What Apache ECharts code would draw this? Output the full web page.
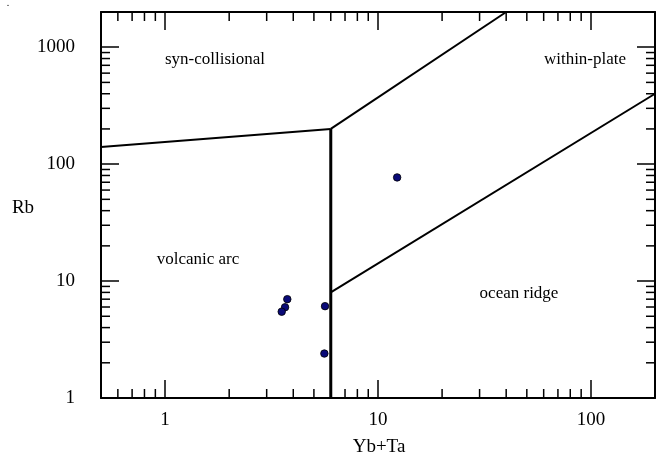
<!DOCTYPE html>
<html>
<head>
<meta charset="utf-8">
<script src="https://cdn.jsdelivr.net/npm/echarts@6/dist/echarts.min.js"></script>
<style>
  html, body { margin: 0; padding: 0; background: #fff; }
  #chart { width: 657px; height: 457px; }
</style>
</head>
<body>
<div id="chart"></div>
<script>
// Pearce et al. (1984) Rb vs Yb+Ta granite discrimination diagram

// Samples
const sampleYbTa = [12.3, 5.64, 5.6, 3.75, 3.66, 3.53];
const sampleRb   = [77, 6.1, 2.4, 7.0, 5.97, 5.47];

// Field boundaries (Yb+Ta, Rb)
const boundarySynColVag = [[0.5, 140], [6, 200]];
const boundarySynColWpg = [[6, 200], [40, 2000]];
const boundaryVagOrg    = [[6, 1], [6, 200]];
const boundaryWpgOrg    = [[6, 8], [200, 400]];

// Axis ranges
const xRange = [0.5, 200];
const yRange = [1, 2000];

// Minor tick values
const xMinorTicks = [0.6, 0.7, 0.8, 0.9, 2, 3, 4, 5, 6, 7, 8, 9, 20, 30, 40, 50, 60, 70, 80, 90];
const yMinorTicks = [2, 3, 4, 5, 6, 7, 8, 9, 20, 30, 40, 50, 60, 70, 80, 90, 200, 300, 400, 500, 600, 700, 800, 900];

// Field names
const fieldNames = ['syn-collisional', 'within-plate', 'volcanic arc', 'ocean ridge'];
const xTitle = 'Yb+Ta';
const yTitle = 'Rb';

const FONT = '"Liberation Serif", "Times New Roman", serif';
const MAJOR_LEN = 18;
const MINOR_LEN = 9;

const chart = echarts.init(document.getElementById('chart'), null, { renderer: 'canvas' });

function logAxis(range, position, showLabels, isX) {
  return {
    type: 'log',
    logBase: 10,
    position: position,
    min: range[0],
    max: range[1],
    axisLine: { show: true, onZero: false, lineStyle: { color: '#000', width: 2 } },
    axisTick: { show: true, inside: true, length: MAJOR_LEN, lineStyle: { color: '#000', width: 1.5 } },
    splitLine: { show: false },
    minorTick: { show: false },
    axisLabel: {
      show: showLabels,
      showMinLabel: !isX,
      showMaxLabel: false,
      margin: isX ? 13 : 26,
      color: '#000',
      fontFamily: FONT,
      fontSize: 19,
      formatter: v => String(Math.round(v))
    }
  };
}

function lineSeries(points, width) {
  return {
    type: 'line',
    data: points,
    symbol: 'none',
    silent: true,
    lineStyle: { color: '#000', width: width },
    z: 3
  };
}

// Minor ticks drawn on all four sides of the grid
function minorTickSeries(values, isX) {
  return {
    type: 'custom',
    silent: true,
    clip: false,
    z: 4,
    data: values.map(v => isX ? [v, 10] : [1, v]),
    renderItem: function (params, api) {
      const cs = params.coordSys;
      const p = api.coord([api.value(0), api.value(1)]);
      const style = { stroke: '#000', lineWidth: 1.5 };
      if (isX) {
        return {
          type: 'group',
          children: [
            { type: 'line', shape: { x1: p[0], y1: cs.y + cs.height, x2: p[0], y2: cs.y + cs.height - MINOR_LEN }, style: style },
            { type: 'line', shape: { x1: p[0], y1: cs.y, x2: p[0], y2: cs.y + MINOR_LEN }, style: style }
          ]
        };
      }
      return {
        type: 'group',
        children: [
          { type: 'line', shape: { x1: cs.x, y1: p[1], x2: cs.x + MINOR_LEN, y2: p[1] }, style: style },
          { type: 'line', shape: { x1: cs.x + cs.width, y1: p[1], x2: cs.x + cs.width - MINOR_LEN, y2: p[1] }, style: style }
        ]
      };
    }
  };
}

function text(str, x, y, size, align) {
  return {
    type: 'text',
    x: x, y: y,
    style: {
      text: str,
      fill: '#000',
      font: size + 'px ' + FONT,
      align: align || 'center',
      verticalAlign: 'middle'
    },
    z: 10
  };
}

const option = {
  animation: false,
  backgroundColor: '#fff',
  grid: { left: 101, right: 2, top: 12, bottom: 59, containLabel: false, outerBoundsMode: 'none' },
  xAxis: [logAxis(xRange, 'bottom', true, true), logAxis(xRange, 'top', false, true)],
  yAxis: [logAxis(yRange, 'left', true, false), logAxis(yRange, 'right', false, false)],
  series: [
    lineSeries(boundarySynColVag, 2),
    lineSeries(boundarySynColWpg, 2),
    lineSeries(boundaryVagOrg, 3),
    lineSeries(boundaryWpgOrg, 2),
    minorTickSeries(xMinorTicks, true),
    minorTickSeries(yMinorTicks, false),
    {
      type: 'scatter',
      data: sampleYbTa.map((x, i) => [x, sampleRb[i]]),
      symbol: 'circle',
      symbolSize: 7.5,
      itemStyle: { color: '#0a0a78', borderColor: '#000', borderWidth: 0.8, opacity: 1 },
      z: 5
    }
  ],
  graphic: [
    text(fieldNames[0], 215, 60, 17),
    text(fieldNames[1], 585, 60, 17),
    text(fieldNames[2], 198, 260, 17),
    text(fieldNames[3], 519, 294, 17),
    text(xTitle, 379, 447, 19),
    text(yTitle, 23, 208, 19),
    text('.', 8, 3, 10)
  ]
};

chart.setOption(option);
</script>
</body>
</html>
